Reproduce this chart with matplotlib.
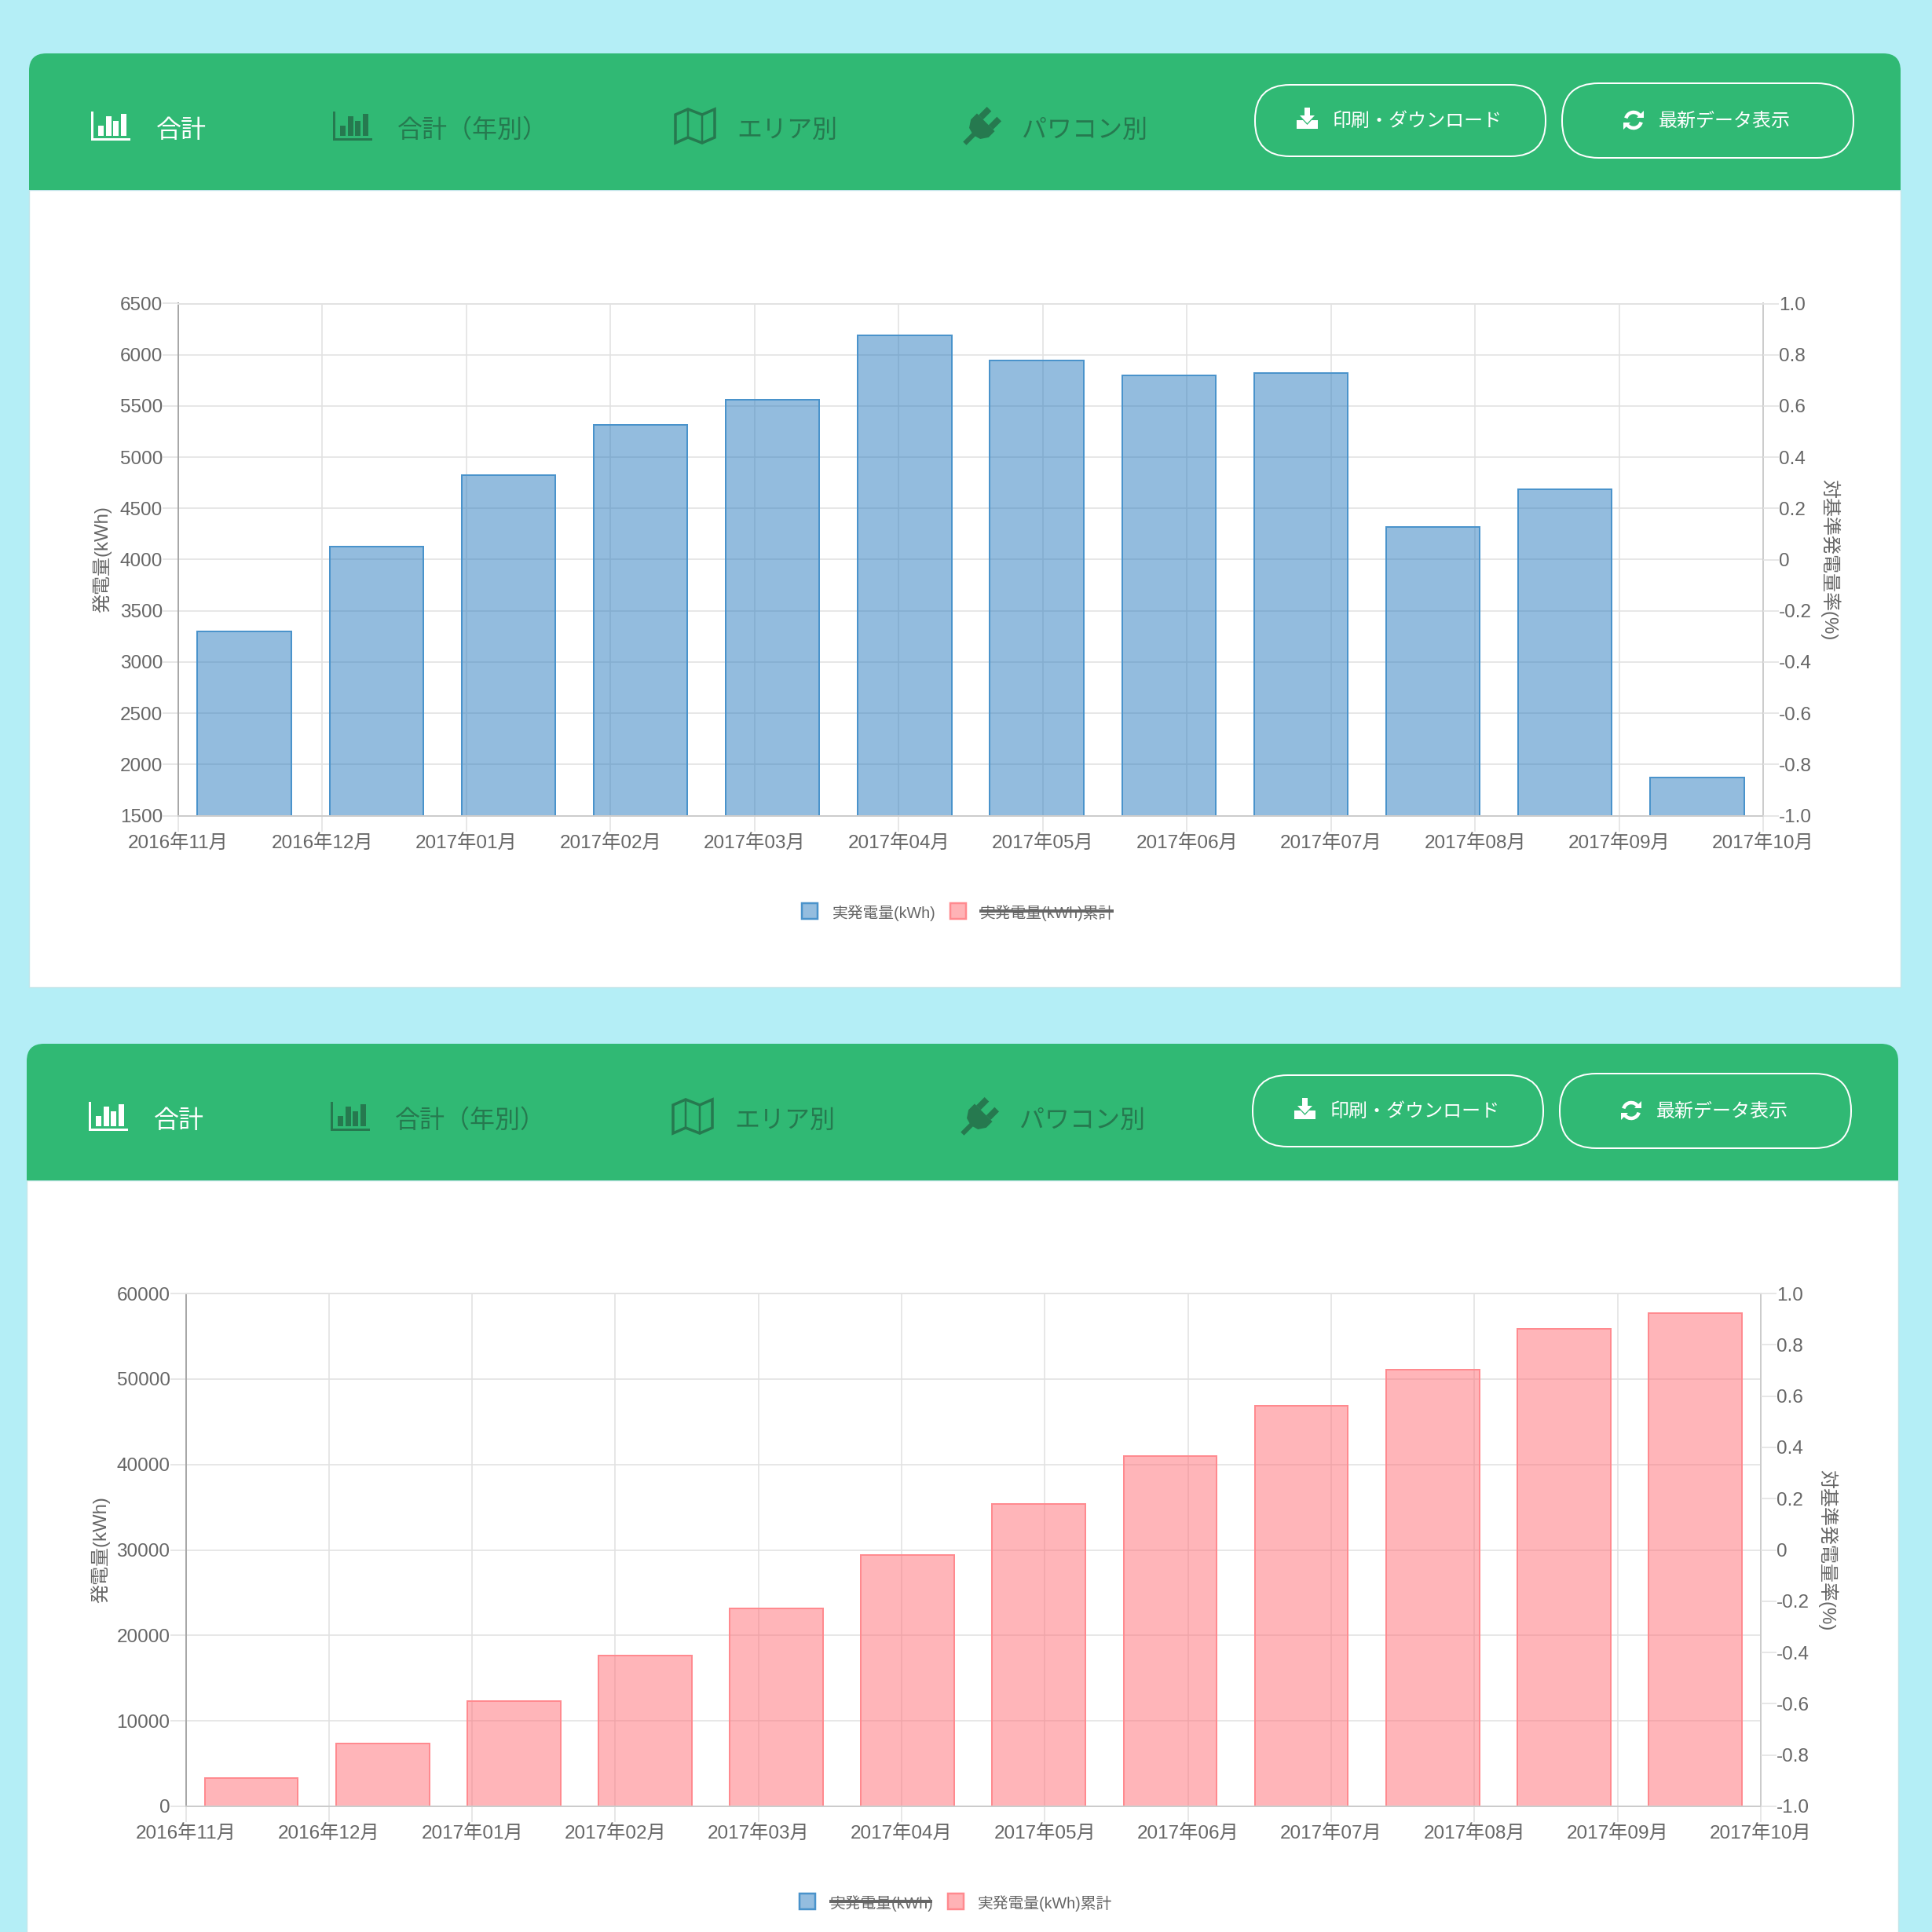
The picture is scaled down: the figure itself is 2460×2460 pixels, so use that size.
import numpy as np
import matplotlib
matplotlib.use('Agg')
import matplotlib.pyplot as plt
from matplotlib.patches import FancyBboxPatch, Rectangle, Polygon, Arc

plt.rcParams['font.family'] = ['Liberation Sans', 'Noto Sans CJK JP', 'DejaVu Sans']
plt.rcParams['axes.unicode_minus'] = False

# data
months = ['2016年11月', '2016年12月', '2017年01月', '2017年02月', '2017年03月', '2017年04月',
          '2017年05月', '2017年06月', '2017年07月', '2017年08月', '2017年09月', '2017年10月']
monthly_kwh = [3300, 4130, 4825, 5315, 5560, 6190, 5945, 5795, 5825, 4315, 4685, 1875]
cumulative_kwh = [3320, 7355, 12330, 17600, 23150, 29420, 35340, 40960, 46870, 51060, 55820, 57690]
monthly_ticks = [1500, 2000, 2500, 3000, 3500, 4000, 4500, 5000, 5500, 6000, 6500]
cumulative_ticks = [0, 10000, 20000, 30000, 40000, 50000, 60000]
rate_ticks = [-1.0, -0.8, -0.6, -0.4, -0.2, 0, 0.2, 0.4, 0.6, 0.8, 1.0]
rate_labels = ['-1.0', '-0.8', '-0.6', '-0.4', '-0.2', '0', '0.2', '0.4', '0.6', '0.8', '1.0']
legend_names = ['実発電量(kWh)', '実発電量(kWh)累計']
nav_names = ['合計', '合計（年別）', 'エリア別', 'パワコン別']
button_names = ['印刷・ダウンロード', '最新データ表示']

BG = '#b4eef6'
GREEN = '#30b974'
DARK = '#26794f'
TEXT = '#666666'
GRID = '#e2e2e2'
SIZE = 2460
PX = 72 / 100  # points per pixel at dpi 100

fig = plt.figure(figsize=(24.6, 24.6), dpi=100, facecolor=BG)
bg = fig.add_axes([0, 0, 1, 1])
bg.set_xlim(0, SIZE)
bg.set_ylim(SIZE, 0)
bg.axis('off')


def bars_icon(x, y, c):
    bg.add_patch(Rectangle((x, y), 3, 37, color=c, lw=0))
    bg.add_patch(Rectangle((x, y + 34), 50, 3, color=c, lw=0))
    for off, top in [(9, 18), (19, 6), (28, 12), (38, 3)]:
        bg.add_patch(Rectangle((x + off, y + top), 7, 31 - top, color=c, lw=0))


def map_icon(x, y, c):
    xs = [x, x + 16, x + 34, x + 50, x + 50, x + 34, x + 16, x]
    ys = [y + 7, y, y + 7, y, y + 36, y + 43, y + 36, y + 43]
    bg.add_patch(Polygon(np.column_stack([xs, ys]), closed=True, fill=False, ec=c, lw=3.5 * PX))
    bg.plot([x + 16, x + 16], [y, y + 36], color=c, lw=2.5 * PX)
    bg.plot([x + 34, x + 34], [y + 7, y + 43], color=c, lw=2.5 * PX)


def plug_icon(x, y, c):
    # plug drawn around its centre and turned by 45 degrees
    cx, cy = x + 25, y + 24
    body = np.array([[-16, -6], [16, -6], [16, 5], [10, 14], [3, 16], [3, 32], [-3, 32], [-3, 16],
                     [-10, 14], [-16, 5]], dtype=float)
    pin1 = np.array([[-13, -6], [-13, -21], [-5, -21], [-5, -6]], dtype=float)
    pin2 = np.array([[5, -6], [5, -21], [13, -21], [13, -6]], dtype=float)
    a = np.radians(45)
    rot = np.array([[np.cos(a), -np.sin(a)], [np.sin(a), np.cos(a)]])
    for shape in [body, pin1, pin2]:
        bg.add_patch(Polygon(shape @ rot.T + [cx, cy], closed=True, color=c, lw=0))


def download_icon(x, y, c):
    bg.add_patch(Rectangle((x + 10, y), 7, 11, color=c, lw=0))
    bg.add_patch(Polygon([[x + 4, y + 10], [x + 23, y + 10], [x + 13.5, y + 20]], closed=True, color=c, lw=0))
    bg.add_patch(Polygon([[x, y + 16], [x + 8, y + 16], [x + 13.5, y + 22], [x + 19, y + 16], [x + 27, y + 16],
                          [x + 27, y + 27], [x, y + 27]], closed=True, color=c, lw=0))


def refresh_icon(x, y, c):
    cx, cy = x + 12, y + 13
    bg.add_patch(Arc((cx, cy), 20, 20, theta1=195, theta2=325, color=c, lw=4.5 * PX))
    bg.add_patch(Arc((cx, cy), 20, 20, theta1=15, theta2=145, color=c, lw=4.5 * PX))
    bg.add_patch(Polygon([[x + 16, y + 10], [x + 25, y + 10], [x + 25, y + 1]], closed=True, color=c, lw=0))
    bg.add_patch(Polygon([[x + 8, y + 16], [x - 1, y + 16], [x - 1, y + 25]], closed=True, color=c, lw=0))


def pill(x0, y0, x1, y1):
    r = (y1 - y0) / 2 - 1
    bg.add_patch(FancyBboxPatch((x0 + r, y0 + r), x1 - x0 - 2 * r, y1 - y0 - 2 * r,
                                boxstyle=f'round,pad={r},rounding_size={r}',
                                fc='none', ec='white', lw=2 * PX))


def draw_frame(dx, dy, bottom):
    bg.add_patch(Rectangle((37 + dx, 242 + dy), 2383, bottom - 242 - dy, fc='white', ec='#c5e6ea', lw=1))
    bg.add_patch(FancyBboxPatch((37 + dx + 22, 68 + dy + 22), 2383 - 44, 60,
                                boxstyle='round,pad=22,rounding_size=22', fc=GREEN, ec='none'))
    bg.add_patch(Rectangle((37 + dx, 130 + dy), 2383, 112, fc=GREEN, ec='none'))

    bars_icon(116 + dx, 142 + dy, 'white')
    bars_icon(424 + dx, 142 + dy, DARK)
    map_icon(860 + dx, 139 + dy, DARK)
    plug_icon(1226 + dx, 136 + dy, DARK)
    nav_x = [199, 506, 938, 1301]
    nav_c = ['white', DARK, DARK, DARK]
    for name, x, c in zip(nav_names, nav_x, nav_c):
        bg.text(x + dx, 167 + dy, name, color=c, fontsize=32 * PX, va='center', ha='left')

    pill(1598 + dx, 108 + dy, 1968 + dx, 199 + dy)
    pill(1989 + dx, 106 + dy, 2360 + dx, 201 + dy)
    download_icon(1651 + dx, 137 + dy, 'white')
    refresh_icon(2068 + dx, 140 + dy, 'white')
    bg.text(1697 + dx, 155 + dy, button_names[0], color='white', fontsize=24 * PX, va='center', ha='left')
    bg.text(2112 + dx, 155 + dy, button_names[1], color='white', fontsize=24 * PX, va='center', ha='left')


def draw_chart(box, values, ticks, color, edge, ylab_x, ylab2_x):
    left, top, right, bot = box
    ax = fig.add_axes([left / SIZE, 1 - bot / SIZE, (right - left) / SIZE, (bot - top) / SIZE])
    ax.patch.set_alpha(0)
    ax.bar(range(12), values, width=0.71, color=color, edgecolor=edge, linewidth=2 * PX)
    ax.set_xlim(-0.5, 11.5)
    ax.set_ylim(ticks[0], ticks[-1])
    ax.set_yticks(ticks)
    ax.set_yticklabels([str(t) for t in ticks])
    ax.set_xticks(np.linspace(-0.5, 11.5, 12))
    ax.set_xticklabels(months)
    ax.set_axisbelow(True)
    ax.grid(color=GRID, linewidth=1.6 * PX)
    ax.tick_params(axis='both', length=20 * PX, width=1.6 * PX, color=GRID, labelcolor=TEXT, labelsize=24.3 * PX)
    ax.tick_params(axis='x', pad=3)
    ax.tick_params(axis='y', pad=0)
    ax.set_ylabel('発電量(kWh)', color=TEXT, fontsize=24 * PX, va='center')
    ax.yaxis.set_label_coords((ylab_x - left) / (right - left), 0.5)
    ax.spines['top'].set_color(GRID)
    ax.spines['left'].set_color('#a8a8a8')
    ax.spines['bottom'].set_color('#cccccc')
    ax.spines['right'].set_color('#cccccc')
    for s in ax.spines.values():
        s.set_linewidth(2 * PX)

    ax2 = ax.twinx()
    ax2.set_ylim(-1, 1)
    ax2.set_yticks(rate_ticks)
    ax2.set_yticklabels(rate_labels)
    ax2.tick_params(axis='y', length=20 * PX, width=1.6 * PX, color=GRID, labelcolor=TEXT,
                    labelsize=24.3 * PX, pad=0)
    ax2.set_ylabel('対基準発電量率(%)', color=TEXT, fontsize=24 * PX, rotation=270, va='center')
    ax2.yaxis.set_label_coords((ylab2_x - left) / (right - left), 0.5)
    for s in ax2.spines.values():
        s.set_visible(False)


def draw_legend(dx, dy, struck):
    boxes = [(1021, '#94bddf', '#4a93cb'), (1210, '#ffb3b6', '#ff8a8f')]
    text_x = [1060, 1248]
    text_w = [130, 170]
    for i, name in enumerate(legend_names):
        x, fc, ec = boxes[i]
        bg.add_patch(Rectangle((x + dx, 1150 + dy), 20, 20, fc=fc, ec=ec, lw=2.5 * PX))
        bg.text(text_x[i] + dx, 1163 + dy, name, color=TEXT, fontsize=19.8 * PX, va='center', ha='left')
        if i == struck:
            bg.plot([text_x[i] + dx - 1, text_x[i] + dx + text_w[i]], [1160 + dy, 1160 + dy],
                    color=TEXT, lw=4 * PX, solid_capstyle='butt')


draw_frame(0, 0, 1257)
draw_frame(-3, 1261, SIZE + 20)
draw_chart((227, 386.5, 2245, 1038.5), monthly_kwh, monthly_ticks, (41 / 255, 123 / 255, 191 / 255, 0.5), '#4a93cb', 130, 2330)
draw_chart((236.5, 1647, 2242, 2300), cumulative_kwh, cumulative_ticks, (255 / 255, 108 / 255, 116 / 255, 0.5), '#ff8a8f', 128, 2327)
draw_legend(0, 0, 1)
draw_legend(-3, 1261, 0)

fig.savefig('out.png', dpi=100, facecolor=BG)
